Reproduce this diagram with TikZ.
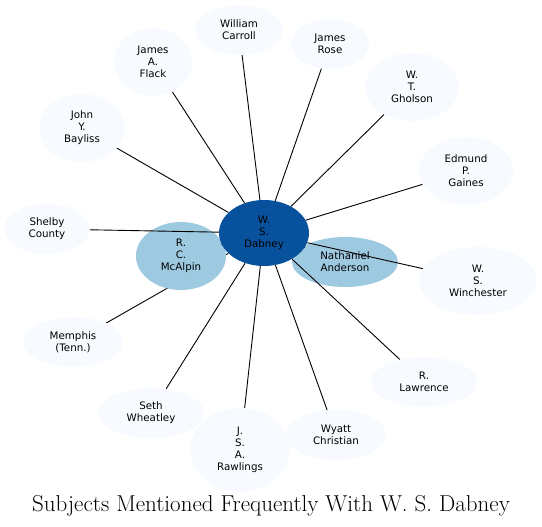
\documentclass[tikz,border=0pt]{standalone}
\usepackage{fontspec}
\newfontfamily\labelfont{DejaVu Sans}
\usepackage{tikz}
\usetikzlibrary{shapes.geometric}
\usepackage{xcolor}
\definecolor{hubBlue}{HTML}{08519C}
\definecolor{nearBlue}{HTML}{9ECAE1}
\definecolor{paleBlue}{HTML}{F7FBFF}
\pgfdeclarelayer{bottom}
\pgfdeclarelayer{middle}
\pgfsetlayers{bottom,middle,main}

\begin{document}
\begin{tikzpicture}[x=1pt, y=-1pt,
  subject/.style={ellipse, inner sep=0pt, align=center, font=\labelfont\fontsize{10.3}{12}\selectfont},
  leaf/.style={subject, fill=paleBlue},
  close/.style={subject, fill=nearBlue},
  hub/.style={subject, fill=hubBlue},
  edge/.style={black, line width=0.9pt}
]
  \useasboundingbox (0,0) rectangle (542,527);
  % Outer subjects
  \foreach \name/\x/\y/\w/\h/\txt in {
    carroll/239/30/88/50/{William\\Carroll},
    flack/153/62/78/68/{James\\A.\\Flack},
    bayliss/82/128/86/68/{John\\Y.\\Bayliss},
    shelby/47/229/86/50/{Shelby\\County},
    rose/330/44/78/50/{James\\Rose},
    gholson/412/87/94/68/{W.\\T.\\Gholson},
    gaines/466/171/94/68/{Edmund\\P.\\Gaines},
    winchester/478/281/118/68/{W.\\S.\\Winchester},
    lawrence/424/382/106/50/{R.\\Lawrence},
    wyatt/336/435/100/50/{Wyatt\\Christian},
    rawlings/240/450/100/84/{J.\\S.\\A.\\Rawlings},
    wheatley/151/413/106/50/{Seth\\Wheatley},
    memphis/73/342/100/50/{Memphis\\(Tenn.)}%
  } {
    \node[leaf, minimum width=\w, minimum height=\h] (\name) at (\x,\y) {\txt};
  }
  % Central subject
  \node[hub, minimum width=90, minimum height=66] (dabney) at (264,233) {W.\\S.\\Dabney};
  \begin{pgfonlayer}{middle}
    \node[close, minimum width=90, minimum height=68] (mcalpin) at (181,256) {R.\\C.\\McAlpin};
    \node[close, minimum width=106, minimum height=50] (anderson) at (345,262) {Nathaniel\\Anderson};
    \foreach \name in {carroll, flack, bayliss, shelby, rose, gholson, gaines,
                       winchester, lawrence, wyatt, rawlings, wheatley, mcalpin, anderson} {
      \draw[edge] (dabney) -- (\name);
    }
  \end{pgfonlayer}
  \begin{pgfonlayer}{bottom}
    \draw[edge] (dabney) -- (memphis);
  \end{pgfonlayer}
  % Title
  \node[font=\fontsize{23}{26}\selectfont] (title) at (271,506) {Subjects Mentioned Frequently With W. S. Dabney};
\end{tikzpicture}
\end{document}
